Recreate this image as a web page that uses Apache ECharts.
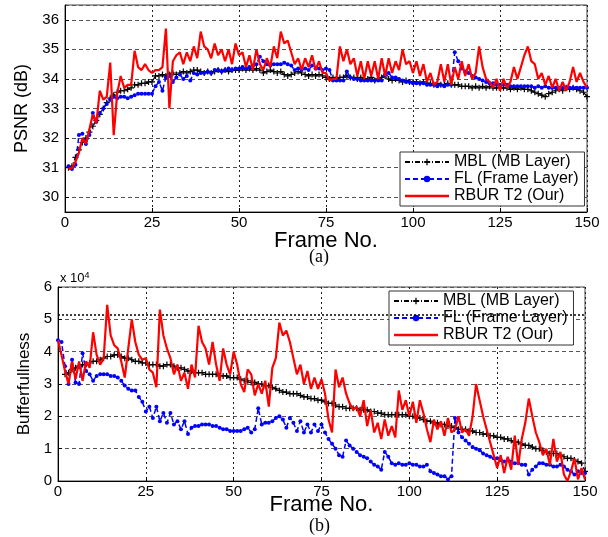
<!DOCTYPE html>
<html>
<head>
<meta charset="utf-8">
<script src="https://cdn.jsdelivr.net/npm/echarts@6/dist/echarts.min.js"></script>
<style>
  html, body { margin: 0; padding: 0; background: #fff; }
  #chart { width: 608px; height: 537px; }
</style>
</head>
<body>
<div id="chart"></div>
<script>
// (a) PSNR per frame, frames 1..150
const psnrStart = 1;
const mblPsnr = [
  31.0, 31.05, 31.35, 31.6, 31.85, 32.0, 32.2, 32.4, 32.6, 32.8,
  33.0, 33.2, 33.35, 33.45, 33.55, 33.6, 33.6, 33.65, 33.7, 33.8,
  33.8, 33.85, 33.85, 33.9, 33.9, 34.1, 34.1, 34.15, 34.1, 34.15,
  34.2, 34.15, 34.2, 34.25, 34.2, 34.25, 34.3, 34.3, 34.25, 34.2,
  34.25, 34.2, 34.25, 34.3, 34.25, 34.3, 34.25, 34.3, 34.3, 34.3,
  34.35, 34.3, 34.35, 34.3, 34.35, 34.3, 34.2, 34.25, 34.3, 34.25,
  34.2, 34.25, 34.15, 34.1, 34.15, 34.2, 34.25, 34.2, 34.15, 34.1,
  34.15, 34.1, 34.15, 34.1, 34.05, 34.0, 34.05, 34.0, 34.05, 34.05,
  34.1, 34.05, 34.05, 34.0, 34.05, 34.0, 34.0, 34.05, 33.95, 34.0,
  34.05, 34.1, 34.0, 33.95, 34.0, 33.95, 33.9, 33.95, 33.9, 33.9,
  33.9, 33.85, 33.9, 33.85, 33.85, 33.8, 33.85, 33.8, 33.8, 33.85,
  33.8, 33.8, 33.8, 33.75, 33.75, 33.75, 33.7, 33.75, 33.7, 33.75,
  33.7, 33.75, 33.7, 33.7, 33.7, 33.7, 33.7, 33.65, 33.7, 33.65,
  33.7, 33.65, 33.65, 33.6, 33.55, 33.5, 33.45, 33.4, 33.5, 33.55,
  33.6, 33.65, 33.6, 33.7, 33.65, 33.7, 33.65, 33.6, 33.55, 33.4
];
const flPsnr = [
  31.05, 30.95, 31.1, 32.1, 32.15, 31.8, 32.1, 32.85, 32.55, 32.85,
  33.0, 33.15, 33.3, 33.4, 33.35, 33.4, 33.4, 33.35, 33.4, 33.45,
  33.5, 33.5, 33.5, 33.5, 33.5, 33.75, 33.9, 33.6, 34.05, 34.1,
  33.9, 34.05, 34.15, 34.0, 34.1, 33.95, 34.2, 34.15, 34.2, 34.2,
  34.25, 34.2, 34.3, 34.3, 34.25, 34.3, 34.35, 34.3, 34.35, 34.35,
  34.4, 34.35, 34.4, 34.45, 34.5, 34.75, 34.6, 34.5, 34.45, 34.5,
  34.5, 34.5, 34.55, 34.5, 34.45, 34.3, 34.35, 34.3, 34.35, 34.3,
  34.45, 34.35, 34.35, 34.3, 34.35, 34.3, 33.95, 33.95, 33.95, 33.95,
  34.25, 34.05, 34.0, 34.0, 33.95, 33.95, 33.95, 33.95, 33.95, 33.95,
  33.95, 34.15, 34.2, 34.05, 34.05, 34.0, 33.95, 33.9, 33.9, 33.85,
  33.85, 33.85, 33.85, 33.8, 33.8, 33.8, 33.75, 33.8, 33.75, 33.8,
  33.8, 34.9, 34.6, 34.35, 34.25, 34.2, 34.1, 34.05, 34.0, 33.95,
  33.9, 33.85, 33.85, 33.8, 33.8, 33.8, 33.8, 33.75, 33.75, 33.75,
  33.75, 33.75, 33.75, 33.75, 33.7, 33.75, 33.7, 33.75, 33.7, 33.7,
  33.7, 33.7, 33.7, 33.7, 33.7, 33.7, 33.7, 33.7, 33.7, 33.7
];
const rburPsnr = [
  30.95, 31.0, 31.2, 31.5, 32.0, 31.8, 32.3, 32.8, 32.5, 33.6,
  33.3, 33.4, 34.55, 32.1, 33.5, 34.1, 33.7, 33.8, 33.8, 34.95,
  34.4, 34.3, 34.5, 34.3, 34.2, 34.3, 34.3, 34.4, 35.7, 33.0,
  34.6, 34.8, 34.9, 34.5, 34.9, 34.6, 35.1, 34.7, 35.6, 35.1,
  35.0, 34.7, 35.2, 34.8, 35.0, 34.6, 35.0, 34.5, 35.2, 34.8,
  34.9, 34.4, 34.8, 34.3, 35.0, 34.5, 34.3, 34.7, 34.4, 35.1,
  34.7, 35.6, 35.2, 35.3, 34.9, 34.5, 34.7, 34.3, 34.7, 34.4,
  34.8, 34.3, 34.6, 34.2, 34.2, 33.95, 34.0, 34.0, 35.1, 34.6,
  35.0, 34.5, 34.7, 34.1, 34.6, 34.0, 34.6, 34.1, 34.6, 34.0,
  34.7, 34.1, 34.7, 34.2, 34.6, 34.3, 35.0, 34.5, 34.6, 34.2,
  34.6, 34.1, 34.5, 33.9, 34.2, 33.8, 33.9, 34.5, 33.9, 34.5,
  33.8, 34.4, 34.0, 34.6, 34.1, 34.5, 34.0, 34.2, 35.1, 34.4,
  34.0, 33.9, 33.7, 34.0, 33.6, 34.0, 33.7, 33.9, 34.4, 34.0,
  34.4, 34.8, 35.1, 34.6, 34.5, 34.0, 34.2, 33.8, 34.1, 33.7,
  34.0, 33.6, 33.9, 33.6, 33.9, 34.4, 33.9, 34.2, 33.9, 33.7
];

// (b) buffer fullness (x 10^4), frames 0..150
const bufStart = 0;
const bufferSize = 5.15;
const mblBuf = [
  null, null, 3.3, 3.35, 3.45, 3.5, 3.55, 3.6, 3.6, 3.65,
  3.7, 3.7, 3.75, 3.8, 3.85, 3.85, 3.9, 3.9, 3.85, 3.8,
  3.8, 3.75, 3.7, 3.7, 3.65, 3.65, 3.6, 3.6, 3.6, 3.55,
  3.55, 3.6, 3.6, 3.55, 3.5, 3.5, 3.45, 3.4, 3.4, 3.35,
  3.35, 3.35, 3.3, 3.3, 3.3, 3.3, 3.25, 3.25, 3.25, 3.2,
  3.2, 3.2, 3.15, 3.1, 3.1, 3.05, 3.05, 3.0, 3.0, 2.95,
  2.95, 2.9, 2.85, 2.8, 2.75, 2.75, 2.7, 2.7, 2.7, 2.65,
  2.6, 2.6, 2.55, 2.55, 2.5, 2.5, 2.45, 2.4, 2.4, 2.35,
  2.3, 2.3, 2.25, 2.25, 2.25, 2.25, 2.2, 2.2, 2.2, 2.15,
  2.15, 2.1, 2.1, 2.05, 2.05, 2.05, 2.05, 2.05, 2.05, 2.05,
  2.0, 2.0, 1.95, 1.95, 1.9, 1.85, 1.85, 1.8, 1.8, 1.75,
  1.75, 1.7, 1.7, 1.65, 1.6, 1.6, 1.6, 1.55, 1.55, 1.5,
  1.5, 1.45, 1.45, 1.4, 1.4, 1.35, 1.35, 1.3, 1.3, 1.25,
  1.2, 1.2, 1.15, 1.1, 1.1, 1.05, 1.0, 1.0, 0.95, 0.9,
  0.85, 0.85, 0.85, 0.8, 0.75, 0.7, 0.7, 0.65, 0.6, 0.55,
  0.3
];
const flBuf = [
  4.35, 4.3, 3.55, 3.0, 3.75, 3.05, 3.0, 3.95, 3.4, 3.3,
  3.1, 3.25, 3.3, 3.3, 3.3, 3.25, 3.25, 3.2, 3.1, 2.95,
  2.85, 2.8, 2.8, 2.6, 2.45, 2.15, 2.3, 1.95, 2.3, 1.85,
  2.1, 1.8, 2.1, 1.75, 1.85, 1.6, 1.85, 1.45, 1.65, 1.7,
  1.7, 1.75, 1.75, 1.75, 1.7, 1.7, 1.65, 1.6, 1.6, 1.55,
  1.55, 1.55, 1.55, 1.6, 1.65, 1.5, 1.6, 2.25, 1.75, 1.8,
  1.8, 1.85, 1.95, 2.0, 1.9, 1.65, 1.95, 1.8, 1.55, 1.85,
  1.5, 1.75, 1.5, 1.75, 1.55, 1.75, 1.5, 1.3, 1.15, 1.0,
  0.8, 0.75, 1.25, 1.1, 1.0, 0.9, 0.8, 0.75, 0.7, 0.6,
  0.5, 0.45, 0.35, 0.9, 0.75, 0.55, 0.5, 0.55, 0.5, 0.5,
  0.55, 0.5, 0.5, 0.45, 0.45, 0.5, 0.3, 0.25, 0.2, 0.15,
  0.15, 0.05, 0.15, 1.95, 1.5, 1.35, 1.25, 1.15, 1.05, 1.0,
  0.95, 0.85, 0.8, 0.75, 0.7, 0.7, 0.65, 0.6, 0.65, 0.6,
  0.55, 0.55, 0.5, 0.5, 0.2, 0.35, 0.45, 0.55, 0.55, 0.5,
  0.5, 0.45, 0.45, 0.5, 0.45, 0.35, 0.3, 0.2, 0.3, 0.25,
  0.25
];
const rburBuf = [
  4.35, 3.9, 3.4, 3.0, 3.7, 3.15, 3.7, 3.1, 3.7, 3.5,
  4.6, 3.9, 3.6, 3.8, 5.45, 4.5, 4.2, 4.1, 3.7, 3.2,
  4.1, 5.0, 4.3, 3.9, 3.75, 3.8, 3.45, 3.35, 2.9, 5.3,
  4.5, 4.1, 3.8, 3.3, 3.6, 3.1, 3.35, 2.85, 3.6, 3.2,
  4.8, 4.3, 4.1, 3.6, 4.3, 3.6, 3.1, 4.1, 3.6, 3.3,
  4.0, 3.6, 3.0, 2.75, 3.45, 3.3, 2.65, 3.0, 2.7, 3.1,
  2.3, 3.5, 3.8, 4.9, 4.5, 4.65, 4.3, 3.8, 3.3, 3.6,
  3.0, 3.4, 2.85, 3.2, 2.85, 3.15, 2.7, 1.9, 1.5, 3.45,
  2.9, 3.2, 2.7, 2.4, 2.2, 2.3, 2.0, 2.5, 1.7, 2.2,
  1.5, 1.8, 1.3, 1.9, 1.4, 1.7, 1.35, 2.8, 2.2, 2.5,
  2.0, 2.45, 1.8, 2.5, 2.1, 1.6, 1.2, 1.9, 1.6, 1.85,
  1.4, 1.95, 1.5, 1.6, 2.0, 1.5, 1.6, 1.4, 2.0, 3.0,
  2.5, 2.0, 1.6, 1.2, 0.8, 0.4, 0.8, 0.25, 0.75, 0.35,
  1.4, 0.5, 1.3, 1.8, 2.55, 2.0, 1.5, 1.2, 0.8, 1.0,
  0.5, 1.3, 0.6, 0.9, 0.2, 0.0, 0.3, 0.7, 0.05, 0.4,
  0.05
];

const names = ["MBL (MB Layer)", "FL (Frame Layer)", "RBUR T2 (Our)"];

const pairs = (vals, start) => vals.map((v, i) => [start + i, v]);

const plusSym = "path://M4,0H6V4H10V6H6V10H4V6H0V4H4Z";
const font = "Arial, 'Liberation Sans', sans-serif";

// styles of the three curves, same in both plots
const mblStyle = {
  type: "line", symbol: plusSym, symbolSize: 6, showAllSymbol: true,
  lineStyle: { color: "#000", width: 1.2, type: [5, 2, 1, 2] },
  itemStyle: { color: "#000" }, z: 3,
};
const flStyle = {
  type: "line", symbol: "circle", symbolSize: 4, showAllSymbol: true,
  lineStyle: { color: "#0000ff", width: 1.5, type: [5, 3] },
  itemStyle: { color: "#0000ff" }, z: 4,
};
const rburStyle = {
  type: "line", symbol: "none",
  lineStyle: { color: "#ff0000", width: 2.2 },
  itemStyle: { color: "#ff0000" }, z: 5,
};

const xAxisBase = (gridIndex, gap) => ({
  type: "value", gridIndex, min: 0, max: 150, interval: 25,
  name: "Frame No.", nameLocation: "middle", nameGap: gap,
  nameMoveOverlap: false,
  nameTextStyle: { fontSize: 22, fontFamily: font, color: "#000" },
  axisLine: { lineStyle: { color: "#000" } },
  axisTick: { inside: true, length: 4, lineStyle: { color: "#000" } },
  axisLabel: { fontSize: 15, fontFamily: font, color: "#000", margin: 3 },
  splitLine: { lineStyle: { color: "#222", type: [2, 3], width: 1 } },
});

// legend: red entry drawn as a plain line
const legendData = [
  names[0],
  names[1],
  { name: names[2], icon: "path://M0,0H40V2.2H0Z" },
];
const legendBase = {
  orient: "vertical", data: legendData,
  backgroundColor: "#fff", borderColor: "#333", borderWidth: 1,
  padding: [2, 6, 2, 4], itemGap: 1, itemWidth: 44, itemHeight: 8,
  textStyle: { fontSize: 16, lineHeight: 16, fontFamily: font, color: "#000" },
};

const chart = echarts.init(document.getElementById("chart"));
chart.setOption({
  animation: false,
  backgroundColor: "#fff",
  grid: [
    { left: 65, right: 21, top: 5, height: 207, show: true, borderColor: "#444", borderWidth: 1, backgroundColor: "#fff" },
    { left: 58, right: 23, top: 287, height: 194, show: true, borderColor: "#444", borderWidth: 1, backgroundColor: "#fff" },
  ],
  xAxis: [xAxisBase(0, 18), xAxisBase(1, 13)],
  yAxis: [
    {
      type: "value", gridIndex: 0, min: 29.5, max: 36.5, splitNumber: 7,
      name: "PSNR (dB)", nameLocation: "middle", nameGap: 32,
      nameTextStyle: { fontSize: 18, fontFamily: font, color: "#000" },
      axisLine: { show: true, lineStyle: { color: "#000" } },
      axisTick: { inside: true, length: 4, lineStyle: { color: "#000" } },
      axisLabel: { fontSize: 15, fontFamily: font, color: "#000", margin: 6, showMinLabel: false, showMaxLabel: false },
      splitLine: { lineStyle: { color: "#555", type: [4, 3] } },
    },
    {
      type: "value", gridIndex: 1, min: 0, max: 6, interval: 1,
      name: "Bufferfullness", nameLocation: "middle", nameGap: 24,
      nameTextStyle: { fontSize: 17, fontFamily: font, color: "#000" },
      axisLine: { show: true, lineStyle: { color: "#000" } },
      axisTick: { inside: true, length: 4, lineStyle: { color: "#000" } },
      axisLabel: { fontSize: 15, fontFamily: font, color: "#000", margin: 6 },
      splitLine: { lineStyle: { color: "#555", type: [4, 3] } },
    },
  ],
  legend: [
    Object.assign({}, legendBase, { left: 400, top: 152 }),
    Object.assign({}, legendBase, { left: 389, top: 291 }),
  ],
  graphic: [
    { type: "text", left: 60, top: 271, style: { rich: { b: { fontSize: 13, fontFamily: font }, s: { fontSize: 9, fontFamily: font, verticalAlign: "top", padding: [0, 0, 6, 0] } }, text: "{b|x 10}{s|4}", fill: "#000" } },
    { type: "text", left: 309, top: 248, style: { text: "(a)", fontSize: 18, fontFamily: "'Liberation Serif', 'Times New Roman', serif", fill: "#000" } },
    { type: "text", left: 309, top: 517, style: { text: "(b)", fontSize: 18, fontFamily: "'Liberation Serif', 'Times New Roman', serif", fill: "#000" } },
  ],
  series: [
    Object.assign({}, mblStyle, { name: names[0], xAxisIndex: 0, yAxisIndex: 0, data: pairs(mblPsnr, psnrStart) }),
    Object.assign({}, flStyle, { name: names[1], xAxisIndex: 0, yAxisIndex: 0, data: pairs(flPsnr, psnrStart) }),
    Object.assign({}, rburStyle, { name: names[2], xAxisIndex: 0, yAxisIndex: 0, data: pairs(rburPsnr, psnrStart) }),
    Object.assign({}, mblStyle, {
      name: names[0], xAxisIndex: 1, yAxisIndex: 1, data: pairs(mblBuf, bufStart),
      // buffer size
      markLine: {
        silent: true, symbol: "none", label: { show: false },
        lineStyle: { color: "#000", type: [2, 2], width: 1.5 },
        data: [{ yAxis: bufferSize }],
      },
    }),
    Object.assign({}, flStyle, { name: names[1], xAxisIndex: 1, yAxisIndex: 1, data: pairs(flBuf, bufStart) }),
    Object.assign({}, rburStyle, { name: names[2], xAxisIndex: 1, yAxisIndex: 1, data: pairs(rburBuf, bufStart) }),
  ],
});
</script>
</body>
</html>
